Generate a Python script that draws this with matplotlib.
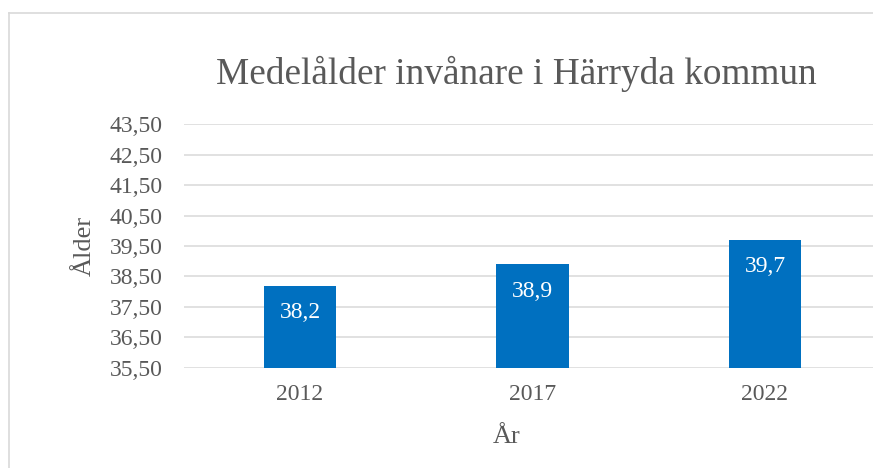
import matplotlib
matplotlib.use("Agg")
import matplotlib.pyplot as plt
from matplotlib.lines import Line2D

years = ["2012", "2017", "2022"]
ages = [38.2, 38.9, 39.7]
value_labels = ["38,2", "38,9", "39,7"]
yticks = [35.5, 36.5, 37.5, 38.5, 39.5, 40.5, 41.5, 42.5, 43.5]
ytick_labels = ["35,50", "36,50", "37,50", "38,50", "39,50", "40,50", "41,50", "42,50", "43,50"]
title = "Medelålder invånare i Härryda kommun"
xlabel = "År"
ylabel = "Ålder"

W, H = 873, 468
plt.rcParams['font.family'] = ['Liberation Serif', 'DejaVu Serif']
txt = '#595959'
grid = '#d9d9d9'

fig = plt.figure(figsize=(W/100, H/100), dpi=100)
fig.patch.set_facecolor('white')

left, right, top, bottom = 183.75, 881.25, 124.3, 367.7
ax = fig.add_axes([left/W, 1-bottom/H, (right-left)/W, (bottom-top)/H])
ax.set_facecolor('none')

x = list(range(len(years)))
ax.bar(x, ages, width=0.313, color='#0070C0', zorder=3)
ax.set_xlim(-0.5, 2.5)
ax.set_ylim(35.5, 43.5)
ax.set_yticks(yticks)
ax.set_yticklabels(ytick_labels)
ax.set_xticks(x)
ax.set_xticklabels(years)
for t in yticks:
    ax.axhline(t, color=grid, lw=1.1, zorder=1)
for s in ax.spines.values():
    s.set_visible(False)
ax.tick_params(axis='both', length=0, labelsize=17, colors=txt)
ax.tick_params(axis='y', pad=15)
ax.tick_params(axis='x', pad=12)

for xi, v, lab in zip(x, ages, value_labels):
    ax.annotate(lab, (xi, v), xytext=(0, -19.5), textcoords='offset points',
                ha='center', va='center', color='white', fontsize=17, zorder=4)

fig.text(516.4/W, 1-84/H, title, ha='center', va='baseline', fontsize=26.8, color=txt)
fig.text(507/W, 1-443/H, xlabel, ha='center', va='baseline', fontsize=19, color=txt)
fig.text(85/W, 1-245.5/H, ylabel, ha='center', va='center', rotation=90, fontsize=19, color=txt)

# chart frame
fig.add_artist(Line2D([8.5/W, 8.5/W], [0, 1-12.5/H], transform=fig.transFigure, color=grid, lw=1.2))
fig.add_artist(Line2D([8.5/W, 1], [1-12.5/H, 1-12.5/H], transform=fig.transFigure, color=grid, lw=1.2))

fig.savefig('out.png', dpi=100)
